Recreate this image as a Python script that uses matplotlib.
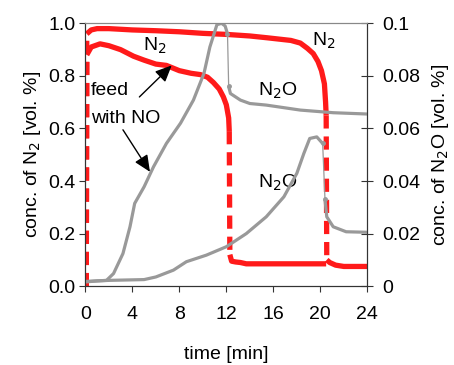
import matplotlib
matplotlib.use("Agg")
import matplotlib.pyplot as plt

plt.rcParams['font.family'] = ['Liberation Sans', 'DejaVu Sans']

# N2 (left axis), feed with NO: fast run
n2_a_t = [0.08, 0.12, 0.5, 1.25, 2.0, 3.0, 4.1, 5.0, 6.0, 6.9, 8.0, 9.0, 9.8,
          10.4, 10.9, 11.4, 11.75, 12.0, 12.2, 12.25, 12.3, 12.45, 12.8, 13.2,
          13.7, 16.0, 18.0, 20.5]
n2_a_v = [0.0, 0.88, 0.91, 0.922, 0.915, 0.90, 0.875, 0.86, 0.845, 0.84, 0.82,
          0.81, 0.805, 0.795, 0.775, 0.75, 0.72, 0.69, 0.64, 0.59, 0.12, 0.095,
          0.092, 0.09, 0.085, 0.085, 0.085, 0.085]
n2_a_jumps = [0, 19]

# N2 (left axis), second run
n2_b_t = [0.08, 0.12, 0.5, 1.0, 2.0, 4.0, 6.0, 8.0, 10.0, 12.0, 14.0, 15.5,
          16.5, 17.5, 18.3, 18.9, 19.4, 19.8, 20.1, 20.35, 20.45, 20.5, 20.55,
          20.8, 21.3, 22.0, 23.0, 24.0]
n2_b_v = [0.0, 0.96, 0.975, 0.98, 0.98, 0.975, 0.972, 0.968, 0.962, 0.958, 0.952,
          0.945, 0.94, 0.935, 0.925, 0.905, 0.885, 0.855, 0.82, 0.77, 0.70, 0.65,
          0.10, 0.09, 0.08, 0.075, 0.075, 0.075]
n2_b_jumps = [0, 21]

# N2O (right axis), fast run
n2o_a_t = [0.0, 1.0, 1.8, 2.4, 3.2, 3.8, 4.2, 5.0, 5.8, 6.9, 8.1, 9.2, 10.1,
           10.6, 11.2, 11.6, 11.9, 12.1, 12.2, 12.35, 13.2, 14.0, 15.4, 18.3,
           21.1, 24.0]
n2o_a_v = [0.0016, 0.002, 0.0022, 0.0048, 0.0124, 0.0226, 0.0315, 0.0378, 0.0454,
           0.0543, 0.062, 0.0708, 0.081, 0.091, 0.0995, 0.1, 0.099, 0.096, 0.076,
           0.0733, 0.0708, 0.0695, 0.0689, 0.067, 0.066, 0.0655]
n2o_a_jumps = [17]

# N2O (right axis), second run
n2o_b_t = [0.0, 2.0, 5.0, 6.0, 7.5, 8.6, 10.3, 12.0, 13.7, 15.4, 16.9, 18.0,
           18.6, 19.1, 19.7, 20.2, 20.4, 20.55, 21.1, 22.2, 24.0]
n2o_b_v = [0.0018, 0.0022, 0.0025, 0.0035, 0.0061, 0.0093, 0.0118, 0.015, 0.020,
           0.0264, 0.034, 0.0429, 0.0505, 0.0562, 0.0568, 0.0543, 0.033, 0.0264,
           0.0226, 0.0207, 0.0205]
n2o_b_jumps = [15]

x_ticks = [0, 4, 8, 12, 16, 20, 24]
left_ticks = [0.0, 0.2, 0.4, 0.6, 0.8, 1.0]
right_ticks = [0, 0.02, 0.04, 0.06, 0.08, 0.1]
right_labels = ["0", "0.02", "0.04", "0.06", "0.08", "0.1"]

RED = "#ff1a1a"
GREY = "#999999"


def draw(ax, t, v, jumps, color, lw, jump_style):
    # solid pieces between jumps, jump segments styled separately
    start = 0
    for j in jumps:
        if j > start:
            ax.plot(t[start:j + 1], v[start:j + 1], color=color, lw=lw,
                    solid_capstyle="butt", solid_joinstyle="round")
        ax.plot(t[j:j + 2], v[j:j + 2], color=color, **jump_style)
        start = j + 1
    ax.plot(t[start:], v[start:], color=color, lw=lw,
            solid_capstyle="butt", solid_joinstyle="round")


fig = plt.figure(figsize=(4.54, 3.65), dpi=100)
ax = fig.add_axes([0.188, 0.216, 0.621, 0.720])
ax2 = ax.twinx()

red_jump = dict(lw=3.8, dashes=(2.5, 1.5), solid_capstyle="butt")
draw(ax, n2_a_t, n2_a_v, n2_a_jumps, RED, 3.8, red_jump)
draw(ax, n2_b_t, n2_b_v, n2_b_jumps, RED, 3.8, red_jump)

grey_jump = dict(lw=0.9, marker="o", markersize=2.5, markevery=[0, 1])
draw(ax2, n2o_a_t, n2o_a_v, n2o_a_jumps, GREY, 2.3, grey_jump)
draw(ax2, n2o_b_t, n2o_b_v, n2o_b_jumps, GREY, 2.3, grey_jump)

ax.set_xlim(0, 24)
ax.set_ylim(0, 1.0)
ax2.set_ylim(0, 0.1)
ax.set_xticks(x_ticks)
ax.set_yticks(left_ticks)
ax.set_yticklabels([f"{t:.1f}" for t in left_ticks])
ax2.set_yticks(right_ticks)
ax2.set_yticklabels(right_labels)

for a in (ax, ax2):
    for s in a.spines.values():
        s.set_color("#333333")
        s.set_linewidth(0.8)
    a.spines["top"].set_color("#888888")
ax.tick_params(axis="both", labelsize=14, direction="out", length=4, width=0.8,
               color="#333333")
ax.tick_params(axis="x", pad=10)
ax.tick_params(axis="y", pad=3)
ax2.tick_params(axis="y", labelsize=14, direction="inout", length=8, width=0.8,
                color="#333333", pad=7)

ax.set_xlabel("time [min]", fontsize=14, labelpad=17)
ax.set_ylabel("conc. of N$_2$ [vol. %]", fontsize=14, labelpad=4)
ax2.set_ylabel("conc. of N$_2$O [vol. %]", fontsize=14, labelpad=7)

ax.text(5.9, 0.915, "N$_2$", fontsize=14, ha="center", va="center")
ax.text(20.3, 0.935, "N$_2$", fontsize=14, ha="center", va="center")
ax.text(16.4, 0.745, "N$_2$O", fontsize=14, ha="center", va="center")
ax.text(16.4, 0.395, "N$_2$O", fontsize=14, ha="center", va="center")

ax.text(0.5, 0.745, "feed", fontsize=14, ha="left", va="center")
ax.text(0.5, 0.638, "with NO", fontsize=14, ha="left", va="center")
arrow = dict(arrowstyle="-|>,head_length=1.0,head_width=0.45", color="black",
             lw=1.0, shrinkA=0, shrinkB=0)
ax.annotate("", xy=(7.35, 0.84), xytext=(4.6, 0.72), arrowprops=arrow)
ax.annotate("", xy=(5.5, 0.435), xytext=(3.2, 0.595), arrowprops=arrow)

fig.savefig("out.png", dpi=100)
